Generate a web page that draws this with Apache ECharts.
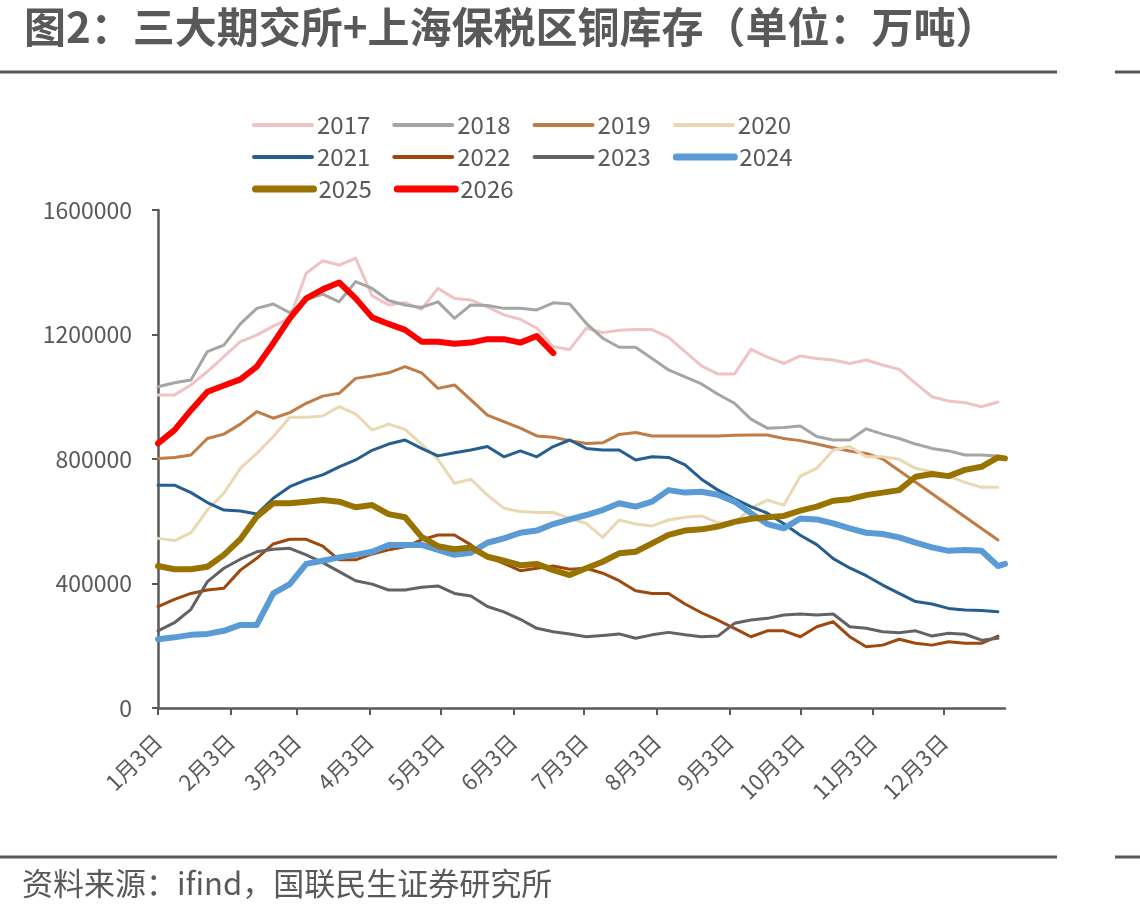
<!DOCTYPE html>
<html><head><meta charset="utf-8">
<script src="https://cdn.jsdelivr.net/npm/echarts@6/dist/echarts.min.js"></script>
<style>html,body{margin:0;padding:0;background:#fff}#c{width:1140px;height:919px}</style>
</head><body><div id="c"></div>
<script>
// x positions: days after Jan 3 (weekly observations)
const weekDays = [0,7,14,21,28,35,42,49,56,63,70,77,84,91,98,105,112,119,126,133,140,147,154,161,168,175,182,189,196,203,210,217,224,231,238,245,252,259,266,273,280,287,294,301,308,315,322,329,336,343,350,357,360];
const monthTickDays = [0,31,59,90,120,151,181,212,243,273,304,334];
const monthLabels = ['1月3日','2月3日','3月3日','4月3日','5月3日','6月3日','7月3日','8月3日','9月3日','10月3日','11月3日','12月3日'];
const yTickValues = [0,400000,800000,1200000,1600000];

const years = ['2017','2018','2019','2020','2021','2022','2023','2024','2025','2026'];
const v2017 = [1006000,1006000,1038000,1081000,1129000,1177000,1198000,1227000,1252000,1397000,1437000,1423000,1445000,1324000,1295000,1302000,1281000,1348000,1316000,1311000,1289000,1263000,1249000,1220000,1161000,1152000,1220000,1206000,1214000,1216000,1216000,1191000,1145000,1099000,1073000,1073000,1152000,1127000,1107000,1131000,1123000,1118000,1107000,1118000,1102000,1088000,1043000,1000000,986000,981000,968000,983000];
const v2018 = [1032000,1045000,1054000,1145000,1166000,1234000,1284000,1298000,1270000,1311000,1330000,1305000,1370000,1348000,1309000,1295000,1287000,1305000,1252000,1295000,1293000,1284000,1284000,1279000,1302000,1298000,1236000,1188000,1159000,1159000,1123000,1086000,1064000,1041000,1008000,979000,928000,899000,901000,906000,872000,861000,861000,897000,880000,866000,848000,834000,826000,813000,813000,810000];
const v2019 = [802000,805000,813000,866000,880000,912000,952000,931000,949000,979000,1002000,1011000,1059000,1067000,1077000,1097000,1077000,1027000,1038000,990000,941000,920000,899000,874000,870000,859000,850000,852000,879000,885000,874000,874000,874000,874000,874000,876000,877000,877000,866000,859000,848000,836000,826000,818000,800000,null,null,null,null,null,null,540000];
const v2020 = [545000,538000,563000,636000,690000,770000,818000,872000,934000,934000,938000,968000,945000,893000,912000,895000,848000,799000,722000,735000,684000,642000,631000,628000,628000,609000,593000,548000,604000,591000,585000,604000,613000,617000,595000,595000,642000,668000,652000,745000,770000,829000,840000,807000,807000,799000,770000,759000,745000,725000,709000,709000];
const v2021 = [716000,716000,692000,660000,636000,633000,623000,674000,711000,733000,749000,775000,797000,828000,848000,861000,834000,810000,820000,829000,840000,807000,826000,807000,840000,861000,834000,829000,829000,797000,807000,805000,781000,735000,700000,672000,647000,626000,592000,555000,525000,480000,450000,425000,395000,368000,342000,334000,320000,315000,313000,309000];
const v2022 = [326000,349000,368000,379000,385000,443000,481000,527000,542000,542000,520000,476000,476000,495000,508000,518000,540000,556000,556000,524000,486000,465000,441000,449000,456000,446000,449000,433000,409000,377000,368000,368000,334000,306000,282000,256000,229000,248000,248000,229000,261000,277000,229000,197000,202000,221000,208000,202000,213000,208000,208000,231000];
const v2023 = [248000,274000,317000,406000,449000,478000,502000,510000,513000,492000,467000,438000,409000,398000,379000,379000,388000,392000,368000,360000,326000,309000,285000,256000,245000,238000,229000,233000,238000,224000,235000,243000,235000,229000,231000,272000,283000,288000,299000,302000,299000,302000,261000,256000,245000,242000,248000,231000,240000,237000,218000,224000];
const v2024 = [221000,227000,235000,238000,248000,267000,267000,368000,398000,463000,473000,484000,492000,502000,524000,524000,524000,508000,492000,499000,531000,545000,563000,570000,591000,606000,620000,636000,658000,647000,663000,700000,692000,695000,685000,663000,626000,591000,577000,609000,606000,593000,577000,563000,559000,548000,531000,516000,505000,508000,505000,456000,463000];
const v2025 = [456000,446000,446000,454000,492000,542000,615000,658000,658000,663000,668000,663000,645000,652000,623000,613000,550000,520000,510000,516000,486000,473000,459000,463000,443000,427000,449000,470000,497000,502000,529000,556000,570000,574000,583000,598000,608000,613000,617000,634000,647000,666000,671000,684000,692000,700000,743000,752000,745000,765000,775000,805000,802000];
const v2026 = [850000,893000,957000,1016000,1036000,1056000,1097000,1172000,1252000,1316000,1345000,1367000,1316000,1255000,1234000,1215000,1177000,1177000,1170000,1174000,1185000,1185000,1174000,1195000,1140000];

const seriesValues = [v2017,v2018,v2019,v2020,v2021,v2022,v2023,v2024,v2025,v2026];
const colors = ['#efc3c3','#a5a5a5','#c17c45','#ead8b2','#255e91','#9e480e','#636363','#5b9bd5','#997300','#ff0000'];
const widths = [3,3,3,3,3,3,3,6,6,6];
const legendWidths = [4,4,4,4,4,4,4,7,7,7];

const FONT = '"Noto Sans CJK SC", "Noto Sans", sans-serif';
const TXT = '#595959';

const series = years.map((y, k) => ({
  name: y,
  type: 'line',
  symbol: 'none',
  connectNulls: true,
  data: seriesValues[k].map((v, i) => [weekDays[i], v]),
  lineStyle: { color: colors[k], width: widths[k], cap: 'round', join: 'round' },
  itemStyle: { color: colors[k] },
  z: 2 + k,
  animation: false
}));

const legendItems = years.map((y, k) => ({
  name: y,
  lineStyle: { width: legendWidths[k], color: colors[k], cap: 'round' }
}));

const legendBase = {
  left: 252, padding: 0, itemWidth: 58, itemHeight: 14, itemGap: 22,
  selectedMode: false,
  itemStyle: { opacity: 0 },
  lineStyle: { cap: 'round' },
  textStyle: { fontSize: 24, color: TXT, fontFamily: FONT, lineHeight: 24 }
};

const chart = echarts.init(document.getElementById('c'), null, { renderer: 'canvas' });
chart.setOption({
  animation: false,
  backgroundColor: '#fff',
  title: {
    text: '图2：三大期交所+上海保税区铜库存（单位：万吨）',
    left: 19, top: 1,
    textStyle: { fontSize: 42, fontWeight: 'bold', color: TXT, fontFamily: FONT }
  },
  legend: [
    Object.assign({}, legendBase, { top: 113, data: legendItems.slice(0, 4) }),
    Object.assign({}, legendBase, { top: 145, data: legendItems.slice(4, 8) }),
    Object.assign({}, legendBase, { top: 177, data: legendItems.slice(8, 10) })
  ],
  grid: { left: 158, right: 135, top: 210, bottom: 211, containLabel: false },
  xAxis: {
    type: 'value', min: 0, max: 360,
    axisLine: { show: true, lineStyle: { color: TXT, width: 2.5 } },
    axisTick: { show: true, customValues: monthTickDays, length: 7, lineStyle: { color: TXT, width: 2 } },
    axisLabel: {
      customValues: monthTickDays,
      formatter: v => monthLabels[monthTickDays.indexOf(v)],
      rotate: 45, margin: 30, fontSize: 22, color: TXT, fontFamily: FONT
    },
    splitLine: { show: false }
  },
  yAxis: {
    type: 'value', min: yTickValues[0], max: yTickValues[yTickValues.length - 1], interval: 400000,
    axisLine: { show: true, lineStyle: { color: TXT, width: 2.5 } },
    axisTick: { show: true, length: 6, lineStyle: { color: TXT, width: 2 } },
    axisLabel: { fontSize: 23, margin: 26, color: TXT, fontFamily: FONT, formatter: v => String(v) },
    splitLine: { show: false }
  },
  graphic: [
    { type: 'line', shape: { x1: 0, y1: 72, x2: 1057, y2: 72 }, style: { stroke: TXT, lineWidth: 3 } },
    { type: 'line', shape: { x1: 1115, y1: 72, x2: 1140, y2: 72 }, style: { stroke: TXT, lineWidth: 3 } },
    { type: 'line', shape: { x1: 0, y1: 857, x2: 1057, y2: 857 }, style: { stroke: TXT, lineWidth: 3 } },
    { type: 'line', shape: { x1: 1115, y1: 857, x2: 1140, y2: 857 }, style: { stroke: TXT, lineWidth: 3 } },
    { type: 'text', left: 22, top: 868, style: { text: '资料来源：ifind，国联民生证券研究所', fontSize: 31, fill: TXT, fontFamily: FONT } }
  ],
  series: series
});
</script>
</body></html>
